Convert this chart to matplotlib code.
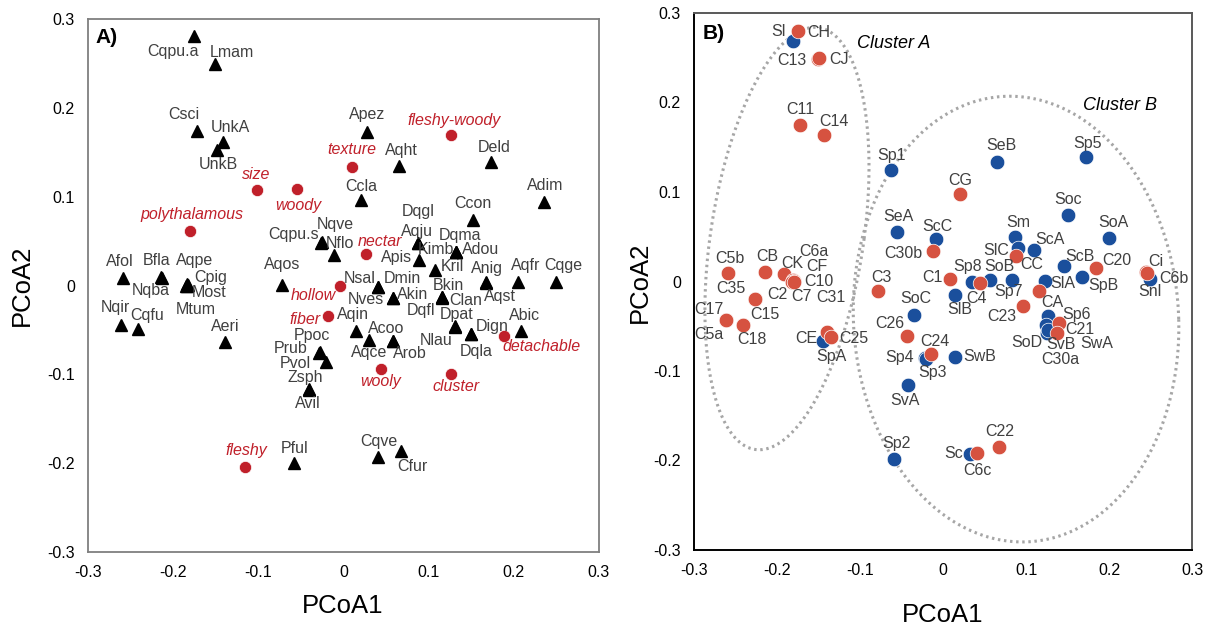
import numpy as np
import matplotlib
matplotlib.use("Agg")
import matplotlib.pyplot as plt

plt.rcParams['font.family'] = ['Liberation Sans', 'DejaVu Sans']

# ---------------- data ----------------
tick_vals = [-0.3, -0.2, -0.1, 0.0, 0.1, 0.2, 0.3]
tick_labels = ['-0.3', '-0.2', '-0.1', '0', '0.1', '0.2', '0.3']

# Panel A: species (triangles)
a_sp_names = ['Cqpu.a', 'Lmam', 'Csci', 'UnkA', 'UnkB', 'Apez', 'Aqht', 'Deld', 'Ccla', 'Adim',
              'Afol', 'Bfla', 'Nqba', 'Aqpe', 'Cpig', 'Most', 'Mtum', 'Nqir', 'Cqfu', 'Aeri',
              'Aqos', 'Cqpu.s', 'Nqve', 'Nflo', 'Prub', 'Ppoc', 'Pvol', 'Zsph', 'Avil', 'Pful',
              'Ccon', 'Dqgl', 'Aqju', 'Dqma', 'Kimb', 'Adou', 'Apis', 'Kril', 'Anig', 'Aqst',
              'Aqfr', 'Cqge', 'Nsal', 'Dmin', 'Nves', 'Akin', 'Bkin', 'Clan', 'Dqfl', 'Dpat',
              'Nlau', 'Dign', 'Dqla', 'Abic', 'Aqin', 'Aqce', 'Acoo', 'Arob', 'Cqve', 'Cfur']
a_sp_x = [-0.175, -0.151, -0.172, -0.142, -0.148, 0.028, 0.065, 0.173, 0.021, 0.235,
          -0.259, -0.214, -0.213, -0.184, -0.183, -0.184, -0.185, -0.261, -0.241, -0.139,
          -0.072, -0.026, -0.025, -0.011, -0.029, -0.028, -0.021, -0.040, -0.041, -0.058,
          0.152, 0.087, 0.087, 0.132, 0.132, 0.132, 0.089, 0.107, 0.167, 0.167,
          0.205, 0.249, 0.041, 0.041, 0.058, 0.058, 0.116, 0.116, 0.116, 0.131,
          0.131, 0.150, 0.150, 0.208, 0.015, 0.030, 0.058, 0.058, 0.041, 0.068]
a_sp_y = [0.281, 0.249, 0.174, 0.162, 0.152, 0.173, 0.135, 0.139, 0.096, 0.094,
          0.008, 0.010, 0.009, 0.002, 0.001, 0.000, 0.000, -0.044, -0.049, -0.064,
          0.001, 0.048, 0.049, 0.034, -0.076, -0.075, -0.086, -0.116, -0.118, -0.200,
          0.074, 0.048, 0.048, 0.038, 0.038, 0.038, 0.029, 0.017, 0.004, 0.003,
          0.004, 0.004, -0.002, -0.002, -0.014, -0.014, -0.013, -0.013, -0.014, -0.046,
          -0.047, -0.055, -0.055, -0.051, -0.051, -0.061, -0.062, -0.062, -0.193, -0.186]
# label offsets (pixels, right / up)
a_sp_dx = [-21, 17, -13, 8, 1, 0, 3, 3, 0, 2,
           -3, -5, -11, 8, 23, 22, 10, -6, 9, 0,
           0, -28, 13, 6, -28, -8, -30, -4, -1, 0,
           0, 1, -1, 4, -20, 25, -23, 18, 1, 14,
           8, 8, -19, 24, -27, 20, 6, 23, -21, 2,
           -19, 21, 5, 4, -3, 0, -7, 17, 0, 11]
a_sp_dy = [-16, 12, 16, 14, -14, 17, 15, 15, 14, 16,
           17, 16, -13, 23, 7, -7, -24, 17, 14, 16,
           20, 8, 17, 12, 5, 17, -2, 11, -13, 15,
           16, 31, 11, 16, 2, 2, 2, 4, 13, -14,
           16, 16, 9, 9, -2, 3, 12, -3, -13, 12,
           -13, 8, -17, 15, 16, -13, 12, -13, 15, -16]

# Panel A: traits (red circles)
a_tr_names = ['size', 'woody', 'texture', 'fleshy-woody', 'polythalamous', 'hollow',
              'fiber', 'nectar', 'detachable', 'wooly', 'cluster', 'fleshy']
a_tr_x = [-0.101, -0.055, 0.010, 0.126, -0.180, -0.004, -0.018, 0.027, 0.188, 0.044, 0.126, -0.116]
a_tr_y = [0.107, 0.109, 0.133, 0.169, 0.061, -0.001, -0.034, 0.035, -0.057, -0.094, -0.100, -0.204]
a_tr_dx = [-1, 2, 0, 3, 2, -27, -23, 13, 38, 0, 5, 2]
a_tr_dy = [16, -17, 18, 15, 17, -9, -4, 13, -10, -12, -12, 16]

# Panel B: red points
b_red_names = ['CH', 'C13', 'CJ', 'C11', 'C14', 'CG', 'C30b', 'CC', 'C20', 'Ci', 'C6b', 'C1',
               'C4', 'CA', 'C23', 'C26', 'C21', 'C30a', 'C24', 'C5b', 'CB', 'CK', 'C6a', 'CF',
               'C10', 'C7', 'C31', 'C35', 'C2', 'C17', 'C5a', 'C15', 'C18', 'CE', 'C25', 'C3',
               'C6c', 'C22']
b_red_x = [-0.175, -0.151, -0.150, -0.172, -0.143, 0.020, -0.012, 0.088, 0.184, 0.245, 0.246, 0.009,
           0.044, 0.116, 0.096, -0.043, 0.140, 0.137, -0.014, -0.259, -0.214, -0.191, -0.181, -0.180,
           -0.181, -0.182, -0.180, -0.227, -0.226, -0.261, -0.261, -0.241, -0.241, -0.140, -0.135, -0.078,
           0.041, 0.067]
b_red_y = [0.280, 0.249, 0.250, 0.175, 0.164, 0.098, 0.034, 0.029, 0.015, 0.011, 0.010, 0.003,
           -0.002, -0.011, -0.027, -0.061, -0.046, -0.057, -0.081, 0.009, 0.011, 0.008, 0.002, 0.001,
           0.000, 0.000, 0.000, -0.019, -0.019, -0.043, -0.043, -0.049, -0.049, -0.056, -0.062, -0.011,
           -0.192, -0.185]
b_red_dx = [21, -26, 20, 0, 10, 1, -30, 16, 21, 9, 27, -18,
            -3, 13, -21, -17, 21, 4, 3, 2, 2, 8, 21, 23,
            26, 9, 37, -24, 22, -17, -17, 22, 9, -20, 23, 3,
            0, 1]
b_red_dy = [-2, -2, -2, 15, 13, 13, -2, -9, 8, 10, -6, 1,
            -15, -11, -11, 13, -7, -27, 12, 15, 15, 11, 28, 14,
            0, -15, -16, 10, 4, 10, -15, 11, -14, -7, -2, 14,
            -17, 16]

# Panel B: blue points
b_blue_names = ['Sl', 'Sp1', 'SeB', 'Sp5', 'Soc', 'SoA', 'SeA', 'ScC', 'Sm', 'SlC', 'ScA', 'ScB',
                'SpB', 'Snl', 'Sp8', 'SoB', 'Sp7', 'SlA', 'SlB', 'SoC', 'Sp6', 'SoD', 'SvB', 'SwA',
                'Sp4', 'Sp3', 'SwB', 'SvA', 'SpA', 'Sc', 'Sp2']
b_blue_x = [-0.181, -0.063, 0.065, 0.172, 0.151, 0.200, -0.056, -0.008, 0.087, 0.090, 0.110, 0.146,
            0.167, 0.249, 0.035, 0.057, 0.083, 0.123, 0.015, -0.035, 0.126, 0.124, 0.125, 0.127,
            -0.022, -0.020, 0.014, -0.042, -0.145, 0.032, -0.059]
b_blue_y = [0.269, 0.125, 0.134, 0.139, 0.074, 0.049, 0.055, 0.047, 0.050, 0.037, 0.035, 0.017,
            0.005, 0.003, 0.000, 0.002, 0.002, 0.001, -0.015, -0.037, -0.039, -0.049, -0.057, -0.054,
            -0.086, -0.087, -0.084, -0.116, -0.067, -0.193, -0.198]
b_blue_dx = [-14, 1, 4, 2, 0, 4, 2, 1, 3, -21, 16, 16,
             22, 0, -4, 9, -3, 18, 4, 2, 29, -19, 14, 48,
             -25, 6, 25, -3, 9, -16, 2]
b_blue_dy = [9, 14, 16, 14, 16, 15, 16, 13, 14, -2, 11, 10,
             -8, -13, 15, 13, -12, -3, -15, 16, 2, -17, -12, -14,
             1, -13, 0, -15, -15, 1, 15]

# cluster outlines (centre x, centre y, half-width, half-height, shear)
clusters = {'Cluster A': (-0.188, 0.048, 0.093, 0.236, 0.142),
            'Cluster B': (0.088, -0.042, 0.196, 0.249, -0.03)}
cluster_text_pos = {'Cluster A': (-0.060, 0.266), 'Cluster B': (0.213, 0.197)}

# ---------------- styles ----------------
lbl_color = '#404040'
red_a = '#c0202a'
red_b = '#d65240'
blue_b = '#1a4f9c'
fs_lbl = 11.5

fig = plt.figure(figsize=(12.13, 6.31), dpi=100)
W, H = 1213, 631
axA = fig.add_axes([88 / W, (H - 552) / H, 511 / W, 533 / H])
axB = fig.add_axes([694 / W, (H - 550) / H, 498 / W, 537 / H])

for ax in (axA, axB):
    ax.set_xlim(-0.3, 0.3)
    ax.set_ylim(-0.3, 0.3)
    ax.set_xticks(tick_vals)
    ax.set_xticklabels(tick_labels)
    ax.set_yticks(tick_vals)
    ax.set_yticklabels(tick_labels)
    ax.tick_params(length=0, labelsize=11.5, pad=9.5, colors='black')

for s in axA.spines.values():
    s.set_color('#7f7f7f')
    s.set_linewidth(1.3)
axB.spines['left'].set_color('black')
axB.spines['bottom'].set_color('black')
axB.spines['top'].set_color('#595959')
axB.spines['right'].set_color('#595959')
for s in axB.spines.values():
    s.set_linewidth(1.4)

# ---- Panel A ----
axA.plot(a_sp_x, a_sp_y, linestyle='none', marker='^', markersize=9, color='black', zorder=3)
axA.plot(a_tr_x, a_tr_y, linestyle='none', marker='o', markersize=8.8, color=red_a,
         markeredgecolor='white', markeredgewidth=0.5, zorder=3)
for n, x, y, dx, dy in zip(a_sp_names, a_sp_x, a_sp_y, a_sp_dx, a_sp_dy):
    axA.annotate(n, (x, y), xytext=(dx, dy), textcoords='offset pixels', ha='center', va='center',
                 fontsize=fs_lbl, color=lbl_color, zorder=4)
for n, x, y, dx, dy in zip(a_tr_names, a_tr_x, a_tr_y, a_tr_dx, a_tr_dy):
    axA.annotate(n, (x, y), xytext=(dx, dy), textcoords='offset pixels', ha='center', va='center',
                 fontsize=fs_lbl, color=red_a, style='italic', zorder=4)
axA.text(0.0366, 0.965, 'A)', transform=axA.transAxes, ha='center', va='center',
         fontsize=15, fontweight='bold', color='black')

# ---- Panel B ----
t = np.linspace(0, 2 * np.pi, 400)
for name, (cx, cy, a, b, s) in clusters.items():
    yy = cy + b * np.sin(t)
    xx = cx + s * (yy - cy) + a * np.cos(t)
    axB.plot(xx, yy, color='#a6a6a6', linewidth=2.2, linestyle=(0, (0.8, 1.2)), zorder=1)
    tx, ty = cluster_text_pos[name]
    axB.text(tx, ty, name, ha='center', va='center', fontsize=13, style='italic', color='black')

axB.plot(b_blue_x, b_blue_y, linestyle='none', marker='o', markersize=10.5, color=blue_b,
         markeredgecolor='white', markeredgewidth=0.5, zorder=3)
axB.plot(b_red_x, b_red_y, linestyle='none', marker='o', markersize=10.5, color=red_b,
         markeredgecolor='white', markeredgewidth=0.5, zorder=3.5)
for n, x, y, dx, dy in zip(b_blue_names, b_blue_x, b_blue_y, b_blue_dx, b_blue_dy):
    axB.annotate(n, (x, y), xytext=(dx, dy), textcoords='offset pixels', ha='center', va='center',
                 fontsize=fs_lbl, color=lbl_color, zorder=4)
for n, x, y, dx, dy in zip(b_red_names, b_red_x, b_red_y, b_red_dx, b_red_dy):
    axB.annotate(n, (x, y), xytext=(dx, dy), textcoords='offset pixels', ha='center', va='center',
                 fontsize=fs_lbl, color=lbl_color, zorder=4)
axB.text(0.0388, 0.962, 'B)', transform=axB.transAxes, ha='center', va='center',
         fontsize=15, fontweight='bold', color='black')

# axis titles
fig.text(343 / W, 1 - 606 / H, 'PCoA1', ha='center', va='center', fontsize=18.5)
fig.text(22 / W, 1 - 285 / H, 'PCoA2', ha='center', va='center', fontsize=18.5, rotation=90)
fig.text(943 / W, 1 - 615 / H, 'PCoA1', ha='center', va='center', fontsize=18.5)
fig.text(640 / W, 1 - 282 / H, 'PCoA2', ha='center', va='center', fontsize=18.5, rotation=90)

fig.savefig('out.png', dpi=100, facecolor='white')
